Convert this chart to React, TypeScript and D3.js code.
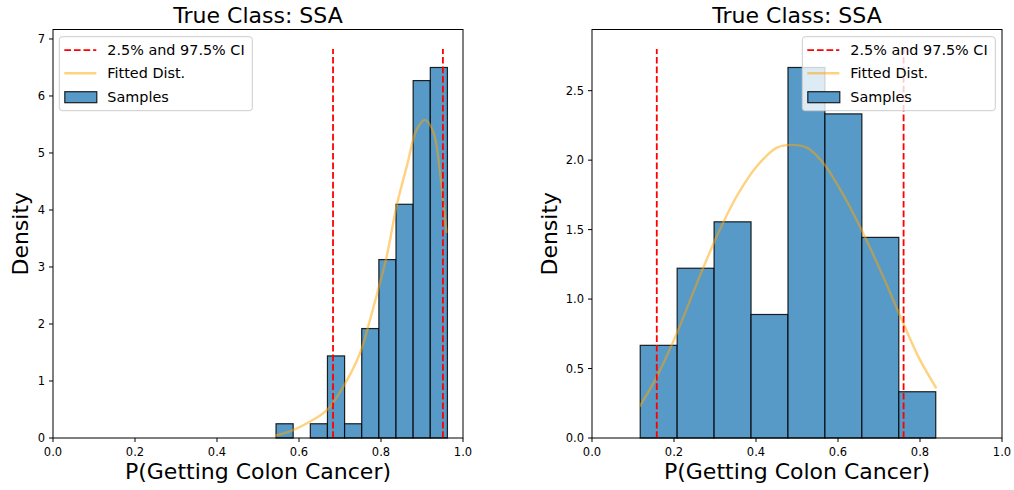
import React from 'react';
import * as d3 from 'd3';

// histogram densities
const leftBinStart = 0.544;
const leftBinWidth = 0.0418;
const leftDensity = [0.25, 0, 0.25, 1.44, 0.25, 1.92, 3.13, 4.1, 6.27, 6.5];
const leftCI = [0.683, 0.951];
const leftCurveX = [0.541, 0.586, 0.627, 0.668, 0.708, 0.749, 0.773, 0.793, 0.814, 0.838, 0.863, 0.887, 0.907, 0.928, 0.944, 0.952, 0.96];
const leftCurveY = [0.04, 0.14, 0.29, 0.49, 0.9, 1.49, 2.07, 2.6, 3.19, 4.07, 4.77, 5.41, 5.58, 5.36, 4.65, 4.12, 3.6];
const leftYTicks = [0, 1, 2, 3, 4, 5, 6, 7];

const rightBinStart = 0.1176;
const rightBinWidth = 0.0901;
const rightDensity = [0.667, 1.222, 1.556, 0.889, 2.667, 2.333, 1.444, 0.333];
const rightCI = [0.158, 0.76];
const rightCurveX = [0.116, 0.158, 0.207, 0.256, 0.304, 0.353, 0.402, 0.451, 0.487, 0.524, 0.564, 0.613, 0.661, 0.71, 0.759, 0.8, 0.84];
const rightCurveY = [0.226, 0.44, 0.755, 1.115, 1.45, 1.74, 1.956, 2.09, 2.11, 2.09, 1.98, 1.75, 1.476, 1.163, 0.827, 0.562, 0.358];
const rightYTicks = [0, 0.5, 1, 1.5, 2, 2.5];

const xTicks = [0, 0.2, 0.4, 0.6, 0.8, 1.0];
const legendLabels = ['2.5% and 97.5% CI', 'Fitted Dist.', 'Samples'];

const FONT = 'DejaVu Sans, sans-serif';
const BAR = 'rgb(87,153,199)';

const Panel = ({ x0, binStart, binWidth, density, ci, curveX, curveY, yTicks, yFmt, labelX, legendX }) => {
  const top = 29.5, bottom = 438, w = 410;
  const ciTop = d3.max(density) * 1.05;
  const x = d3.scaleLinear().domain([0, 1]).range([x0, x0 + w]);
  const y = d3.scaleLinear().domain([0, ciTop * 1.05]).range([bottom, top]);
  const line = d3.line().x(d => x(d[0])).y(d => y(d[1])).curve(d3.curveCatmullRom.alpha(0.5));
  const pts = curveX.map((v, i) => [v, curveY[i]]);

  return (
    <g>
      <text x={x0 + w / 2} y={22.7} textAnchor="middle" fontSize={22} fontFamily={FONT}>True Class: SSA</text>
      {density.map((d, i) => (
        <rect key={i}
          x={x(binStart + i * binWidth)}
          y={y(d)}
          width={x(binStart + (i + 1) * binWidth) - x(binStart + i * binWidth)}
          height={y(0) - y(d)}
          fill={BAR} stroke="#000" strokeOpacity={0.85} strokeWidth={1.2} />
      ))}
      <path d={line(pts)} fill="none" stroke="orange" strokeOpacity={0.5} strokeWidth={2.4} />
      {ci.map((c, i) => (
        <line key={i} x1={x(c)} x2={x(c)} y1={y(0)} y2={y(ciTop)} stroke="red" strokeWidth={1.8} strokeDasharray="6.7,2.9" />
      ))}
      <rect x={x0} y={top} width={w} height={bottom - top} fill="none" stroke="#000" strokeWidth={1} />
      {xTicks.map(t => (
        <g key={t}>
          <line x1={x(t)} x2={x(t)} y1={bottom} y2={bottom + 4} stroke="#000" />
          <text x={x(t)} y={456} textAnchor="middle" fontSize={11.5} fontFamily={FONT}>{t.toFixed(1)}</text>
        </g>
      ))}
      {yTicks.map(t => (
        <g key={t}>
          <line x1={x0 - 4} x2={x0} y1={y(t)} y2={y(t)} stroke="#000" />
          <text x={x0 - 8} y={y(t)} dy="0.36em" textAnchor="end" fontSize={11.5} fontFamily={FONT}>{yFmt(t)}</text>
        </g>
      ))}
      <text x={x0 + w / 2} y={479} textAnchor="middle" fontSize={22} fontFamily={FONT}>P(Getting Colon Cancer)</text>
      <text transform={`translate(${labelX},${(top + bottom) / 2}) rotate(-90)`} textAnchor="middle" fontSize={22} fontFamily={FONT}>Density</text>
      <g transform={`translate(${legendX},36.7)`}>
        <rect x={0} y={0} width={193} height={74} rx={3} fill="#fff" fillOpacity={0.8} stroke="#ccc" strokeWidth={1} />
        <line x1={5} x2={37} y1={13.5} y2={13.5} stroke="red" strokeWidth={1.8} strokeDasharray="6.7,2.9" />
        <line x1={5} x2={37} y1={36.5} y2={36.5} stroke="orange" strokeOpacity={0.5} strokeWidth={2.4} />
        <rect x={5.5} y={55} width={32} height={11} fill={BAR} stroke="#000" strokeOpacity={0.85} strokeWidth={1.2} />
        {legendLabels.map((l, i) => (
          <text key={l} x={48} y={18.5 + i * 23.2} fontSize={14.4} fontFamily={FONT}>{l}</text>
        ))}
      </g>
    </g>
  );
};

export default function App() {
  document.body.style.margin = '0';
  return (
    <svg width={1014} height={490} style={{ display: 'block', background: '#fff' }}>
      <Panel x0={53} binStart={leftBinStart} binWidth={leftBinWidth} density={leftDensity} ci={leftCI}
        curveX={leftCurveX} curveY={leftCurveY} yTicks={leftYTicks} yFmt={String} labelX={28} legendX={59.3} />
      <Panel x0={592} binStart={rightBinStart} binWidth={rightBinWidth} density={rightDensity} ci={rightCI}
        curveX={rightCurveX} curveY={rightCurveY} yTicks={rightYTicks} yFmt={t => t.toFixed(1)} labelX={557} legendX={802.3} />
    </svg>
  );
}
